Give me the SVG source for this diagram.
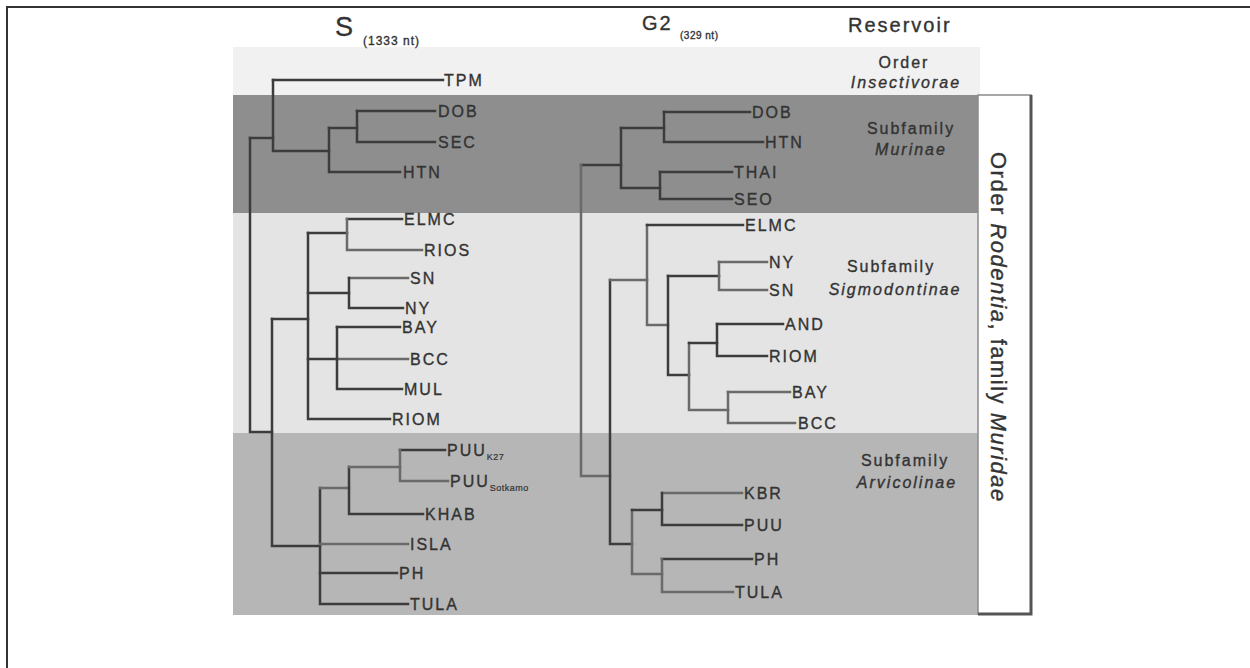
<svg xmlns="http://www.w3.org/2000/svg" width="1250" height="668" viewBox="0 0 1250 668">
<style>
.lbl{font-family:"Liberation Sans",Arial,sans-serif;font-size:16px;letter-spacing:2px;fill:#333;stroke:#333;stroke-width:0.35;}
.sub{font-size:9px;letter-spacing:0.5px;stroke-width:0.2;}
.hdr{font-family:"Liberation Sans",Arial,sans-serif;fill:#333;stroke:#333;stroke-width:0.35;}
.res{font-family:"Liberation Sans",Arial,sans-serif;font-size:16px;letter-spacing:2px;fill:#333;stroke:#333;stroke-width:0.35;text-anchor:middle;}
.it{font-style:italic;}
.br path{fill:none;stroke:#3c3c3c;stroke-width:2.5;stroke-linecap:square;}
.br path.lt{stroke:#6a6a6a;}
</style>
<rect width="1250" height="668" fill="#ffffff"/>
<path d="M7 668 V7 H1250" fill="none" stroke="#333" stroke-width="2"/>
<g id="bands">
<rect x="233" y="47" width="747" height="48" fill="#f1f1f1"/>
<rect x="233" y="95" width="745" height="118" fill="#8e8e8e"/>
<rect x="233" y="213" width="745" height="220" fill="#e4e4e4"/>
<rect x="233" y="433" width="745" height="182" fill="#b6b6b6"/>
</g>
<g id="rodentia-box">
<rect x="978" y="95" width="53" height="519" fill="#ffffff" stroke="#8a8a8a" stroke-width="1.5"/>
<path d="M1031 95 V614 H978" fill="none" stroke="#555" stroke-width="3"/>
<text class="hdr" transform="translate(991,152) rotate(90)" font-size="22" letter-spacing="1.5">Order <tspan class="it">Rodentia</tspan>, family <tspan class="it">Muridae</tspan></text>
</g>
<g id="headers">
<text class="hdr" x="335" y="36" font-size="27">S</text>
<text class="hdr" x="363" y="45" font-size="12" letter-spacing="1" stroke-width="0.2">(1333 nt)</text>
<text class="hdr" x="642" y="30" font-size="20" letter-spacing="2">G2</text>
<text class="hdr" x="680" y="39" font-size="10" letter-spacing="0.5" stroke-width="0.2">(329 nt)</text>
<text class="hdr" x="848" y="32" font-size="20" letter-spacing="2">Reservoir</text>
</g>
<g id="reservoir-labels">
<g id="res-insectivorae"><text class="res" x="904" y="68">Order</text><text class="res it" x="906" y="88">Insectivorae</text></g>
<g id="res-murinae"><text class="res" x="911" y="134">Subfamily</text><text class="res it" x="911" y="155">Murinae</text></g>
<g id="res-sigmodontinae"><text class="res" x="891" y="272">Subfamily</text><text class="res it" x="895" y="295">Sigmodontinae</text></g>
<g id="res-arvicolinae"><text class="res" x="905" y="466">Subfamily</text><text class="res it" x="907" y="488">Arvicolinae</text></g>
</g>
<g id="connectors" class="br">
<path d="M273 80 H443"/>
<path d="M273 80 V151 H329"/>
<path d="M329 128 V172 H400"/>
<path d="M329 128 H357"/>
<path d="M357 111 V142 H435"/>
<path d="M357 111 H435"/>
<path d="M250 138 H273"/>
<path d="M250 138 V432 H272"/>
<path d="M272 319 V546 H320"/>
<path d="M272 319 H308"/>
<path d="M308 233 V419 H390"/>
<path d="M308 233 H347"/>
<path d="M347 219 H402"/>
<path class="lt" d="M347 219 V250 H422"/>
<path d="M308 293 H349"/>
<path class="lt" d="M349 278 H408"/>
<path d="M349 278 V308 H403"/>
<path d="M308 359 H337"/>
<path d="M337 327 H400"/>
<path class="lt" d="M337 359 H408"/>
<path d="M337 327 V389 H402"/>
<path d="M320 488 V604 H408"/>
<path class="lt" d="M320 488 H349"/>
<path d="M349 467 V514 H423"/>
<path class="lt" d="M349 467 H400"/>
<path d="M400 450 H445"/>
<path class="lt" d="M400 450 V481 H448"/>
<path class="lt" d="M320 544 H408"/>
<path d="M320 573 H397"/>
<path d="M581 165 H621"/>
<path class="lt" d="M581 165 V476 H610"/>
<path d="M621 128 V188 H660"/>
<path d="M621 128 H664"/>
<path d="M664 112 V142 H763"/>
<path d="M664 112 H750"/>
<path d="M660 172 V199 H732"/>
<path d="M660 172 H732"/>
<path d="M610 280 V544 H632"/>
<path class="lt" d="M610 280 H647"/>
<path class="lt" d="M647 225 V325 H668"/>
<path d="M647 225 H743"/>
<path d="M668 276 V375 H689"/>
<path d="M668 276 H719"/>
<path class="lt" d="M719 262 H767"/>
<path class="lt" d="M719 262 V290 H767"/>
<path class="lt" d="M689 343 V410 H728"/>
<path d="M689 343 H717"/>
<path d="M717 324 H783"/>
<path d="M717 324 V356 H767"/>
<path class="lt" d="M728 392 H790"/>
<path class="lt" d="M728 392 V423 H795"/>
<path class="lt" d="M632 510 V574 H662"/>
<path d="M632 510 H662"/>
<path class="lt" d="M662 493 H742"/>
<path d="M662 493 V525 H742"/>
<path d="M662 559 H752"/>
<path class="lt" d="M662 559 V592 H733"/>
</g>
<g id="s-leaves">
<g id="s-tpm"><text class="lbl" x="444" y="86">TPM</text></g>
<g id="s-dob"><text class="lbl" x="438" y="117">DOB</text></g>
<g id="s-sec"><text class="lbl" x="438" y="148">SEC</text></g>
<g id="s-htn"><text class="lbl" x="403" y="178">HTN</text></g>
<g id="s-elmc"><text class="lbl" x="404" y="225">ELMC</text></g>
<g id="s-rios"><text class="lbl" x="424" y="256">RIOS</text></g>
<g id="s-sn"><text class="lbl" x="410" y="284">SN</text></g>
<g id="s-ny"><text class="lbl" x="405" y="314">NY</text></g>
<g id="s-bay"><text class="lbl" x="402" y="333">BAY</text></g>
<g id="s-bcc"><text class="lbl" x="410" y="365">BCC</text></g>
<g id="s-mul"><text class="lbl" x="404" y="395">MUL</text></g>
<g id="s-riom"><text class="lbl" x="392" y="425">RIOM</text></g>
<g id="s-puuk27"><text class="lbl" x="447" y="456">PUU<tspan class="sub" dy="4">K27</tspan></text></g>
<g id="s-puusot"><text class="lbl" x="450" y="487">PUU<tspan class="sub" dy="4" font-size="8">Sotkamo</tspan></text></g>
<g id="s-khab"><text class="lbl" x="425" y="520">KHAB</text></g>
<g id="s-isla"><text class="lbl" x="410" y="550">ISLA</text></g>
<g id="s-ph"><text class="lbl" x="399" y="579">PH</text></g>
<g id="s-tula"><text class="lbl" x="410" y="610">TULA</text></g>
</g>
<g id="g2-leaves">
<g id="g-dob"><text class="lbl" x="752" y="118">DOB</text></g>
<g id="g-htn"><text class="lbl" x="765" y="148">HTN</text></g>
<g id="g-thai"><text class="lbl" x="734" y="178">THAI</text></g>
<g id="g-seo"><text class="lbl" x="734" y="205">SEO</text></g>
<g id="g-elmc"><text class="lbl" x="745" y="231">ELMC</text></g>
<g id="g-ny"><text class="lbl" x="769" y="268">NY</text></g>
<g id="g-sn"><text class="lbl" x="769" y="296">SN</text></g>
<g id="g-and"><text class="lbl" x="785" y="330">AND</text></g>
<g id="g-riom"><text class="lbl" x="769" y="362">RIOM</text></g>
<g id="g-bay"><text class="lbl" x="792" y="398">BAY</text></g>
<g id="g-bcc"><text class="lbl" x="798" y="429">BCC</text></g>
<g id="g-kbr"><text class="lbl" x="744" y="499">KBR</text></g>
<g id="g-puu"><text class="lbl" x="744" y="531">PUU</text></g>
<g id="g-ph"><text class="lbl" x="754" y="565">PH</text></g>
<g id="g-tula"><text class="lbl" x="735" y="598">TULA</text></g>
</g>
</svg>
